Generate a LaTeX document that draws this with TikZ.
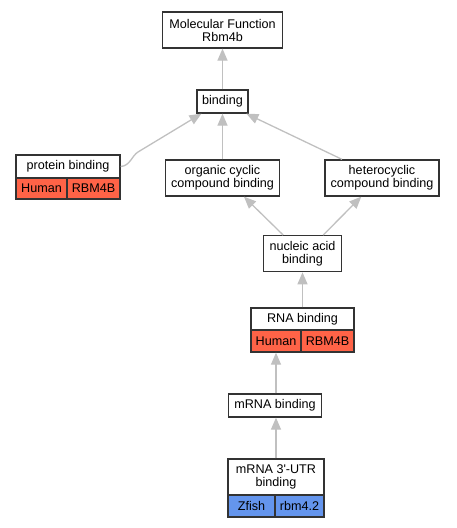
\documentclass[tikz,border=0pt]{standalone}
\usepackage{fontspec}
\setmainfont{Liberation Sans}
\usetikzlibrary{arrows.meta, positioning}
\definecolor{HRed}{HTML}{FF6347}
\definecolor{ZBlue}{HTML}{6495ED}
\definecolor{EGray}{HTML}{C0C0C0}

\begin{document}
\begin{tikzpicture}[x=1pt, y=-1pt,
    term/.style={draw=black!80, line width=1.3pt, fill=white, inner sep=0pt, align=center, font=\fontsize{12.6}{13}\selectfont},
    edge/.style={EGray, line width=1.3pt, -{Triangle[length=12pt, width=10pt]}}]
    \useasboundingbox (0,0) rectangle (456,528);

    % Terms
    \node[term, minimum width=120pt, minimum height=36pt] (mf) at (222.5,30) {Molecular Function\\Rbm4b};
    \node[term, minimum width=51pt, minimum height=23pt] (binding) at (222.5,101.5) {binding};
    \node[term, minimum width=114pt, minimum height=36pt] (organic) at (222.5,178) {organic cyclic\\compound binding};
    \node[term, minimum width=114pt, minimum height=36pt] (hetero) at (382,178) {heterocyclic\\compound binding};
    \node[term, minimum width=78pt, minimum height=36pt] (nucleic) at (302.5,253.7) {nucleic acid\\binding};
    \node[term, minimum width=93pt, minimum height=23pt] (mrna) at (275,405.5) {mRNA binding};

    % Terms with genes
    \node[term, minimum width=104pt, minimum height=23pt] (protein) at (68,166.5) {protein binding};
    \node[term, fill=HRed, minimum width=51pt, minimum height=21pt] (proteinsp) at (41.5,188.5) {Human};
    \node[term, fill=HRed, minimum width=53pt, minimum height=21pt] (proteingn) at (93.5,188.5) {RBM4B};

    \node[term, minimum width=103pt, minimum height=22pt] (rna) at (302.5,319) {RNA binding};
    \node[term, fill=HRed, minimum width=50pt, minimum height=22pt] (rnasp) at (276,341) {Human};
    \node[term, fill=HRed, minimum width=53pt, minimum height=22pt] (rnagn) at (327.5,341) {RBM4B};

    \node[term, minimum width=96pt, minimum height=36pt] (utr) at (276,477) {mRNA 3\textquotesingle-UTR\\binding};
    \node[term, fill=ZBlue, minimum width=47pt, minimum height=22pt] (utrsp) at (251.5,506) {Zfish};
    \node[term, fill=ZBlue, minimum width=49pt, minimum height=22pt] (utrgn) at (299.5,506) {rbm4.2};

    % Edges
    \draw[edge] (binding.north) -- (mf.south);
    \draw[edge] (organic.north) -- (binding.south);
    \draw[edge] (hetero.155) -- (binding.-27);
    \coordinate (pbend) at (138,152);
    \draw[edge] (protein.east) .. controls (130,166) and (132,155.6) .. (pbend) -- (binding.-150);
    \draw[edge] (nucleic.136) -- (organic.-41);
    \draw[edge] (nucleic.42) -- (hetero.-138);
    \draw[edge] (rna.north) -- (nucleic.south);
    \draw[edge] (mrna.north -| rnasp.south) -- (rnasp.south);
    \draw[edge] (utr.north) -- (utr.north |- mrna.south);
\end{tikzpicture}
\end{document}
